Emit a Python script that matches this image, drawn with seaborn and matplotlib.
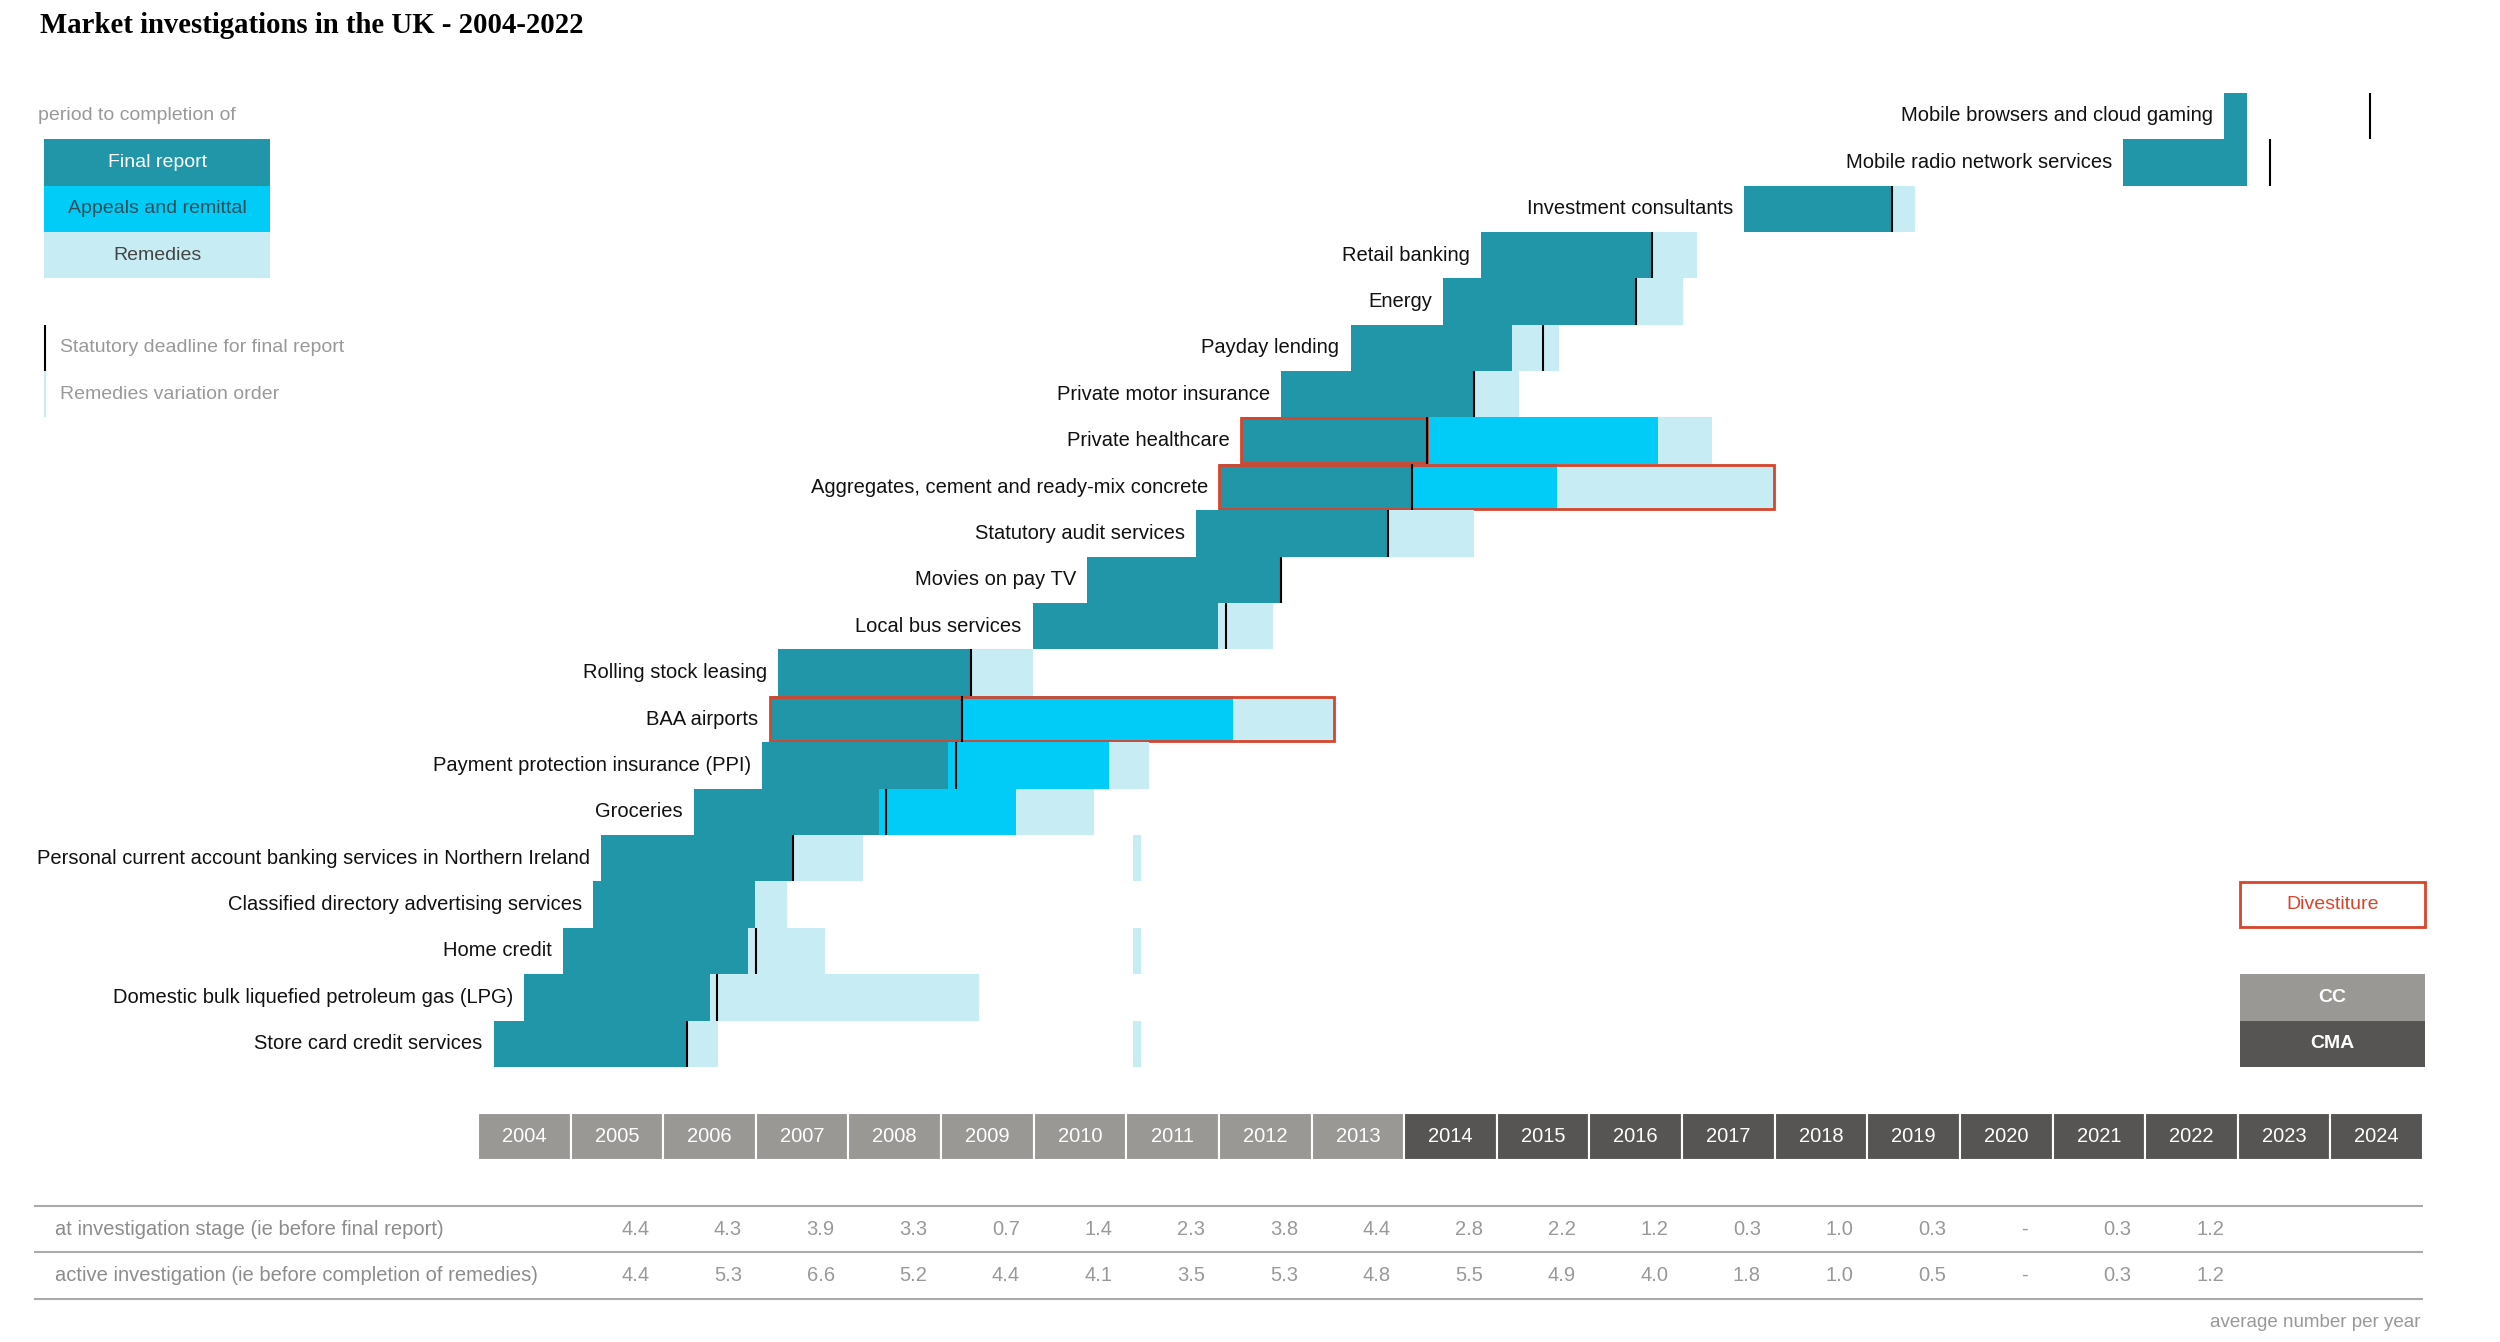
import numpy as np
import matplotlib.pyplot as plt
from matplotlib.patches import Rectangle
import seaborn as sns

sns.set_theme(style='white')
plt.rcParams['font.family'] = ['Liberation Sans', 'DejaVu Sans']

nan = np.nan

# investigations, top to bottom
names = ['Mobile browsers and cloud gaming', 'Mobile radio network services',
         'Investment consultants', 'Retail banking', 'Energy', 'Payday lending',
         'Private motor insurance', 'Private healthcare',
         'Aggregates, cement and ready-mix concrete', 'Statutory audit services',
         'Movies on pay TV', 'Local bus services', 'Rolling stock leasing',
         'BAA airports', 'Payment protection insurance (PPI)', 'Groceries',
         'Personal current account banking services in Northern Ireland',
         'Classified directory advertising services', 'Home credit',
         'Domestic bulk liquefied petroleum gas (LPG)', 'Store card credit services']
start = [2022.85, 2021.76, 2017.67, 2014.83, 2014.42, 2013.42, 2012.67, 2012.24,
         2012.00, 2011.75, 2010.58, 2009.99, 2007.24, 2007.15, 2007.07, 2006.33,
         2005.33, 2005.24, 2004.92, 2004.50, 2004.17]
final_end = [2023.10, 2023.10, 2019.27, 2016.67, 2016.50, 2015.16, 2014.75, 2014.25,
             2014.08, 2013.83, 2012.67, 2011.99, 2009.32, 2009.23, 2009.07, 2008.33,
             2007.40, 2006.99, 2006.92, 2006.50, 2006.26]
appeals_end = [nan, nan, nan, nan, nan, nan, nan, 2016.74,
               2015.65, nan, nan, nan, nan, 2012.15, 2010.81, 2009.81,
               nan, nan, nan, nan, nan]
remedies_end = [nan, nan, 2019.51, 2017.16, 2017.01, 2015.67, 2015.24, 2017.32,
                2017.99, 2014.75, nan, 2012.58, 2009.99, 2013.24, 2011.25, 2010.65,
                2008.16, 2007.34, 2007.75, 2009.41, 2006.59]
deadline = [2024.43, 2023.35, 2019.27, 2016.67, 2016.50, 2015.50, 2014.75, 2014.25,
            2014.08, 2013.83, 2012.67, 2012.08, 2009.32, 2009.23, 2009.16, 2008.41,
            2007.40, nan, 2007.00, 2006.58, 2006.26]
divest_end = [nan, nan, nan, nan, nan, nan, nan, 2014.25,
              2017.99, nan, nan, nan, nan, 2013.24, nan, nan,
              nan, nan, nan, nan, nan]
rvo = [nan] * 16 + [2011.07, nan, 2011.07, nan, 2011.07]

years = list(range(2004, 2025))
cma_from = 2014

tbl_years = list(range(2005, 2023))
inv_stage = [4.4, 4.3, 3.9, 3.3, 0.7, 1.4, 2.3, 3.8, 4.4, 2.8, 2.2, 1.2, 0.3, 1.0, 0.3, None, 0.3, 1.2]
active_inv = [4.4, 5.3, 6.6, 5.2, 4.4, 4.1, 3.5, 5.3, 4.8, 5.5, 4.9, 4.0, 1.8, 1.0, 0.5, None, 0.3, 1.2]

c_final = '#2196a8'
c_appeal = '#00ccf7'
c_rem = '#c8ecf3'
c_red = '#d9442b'
c_cc = '#9a9894'
c_cma = '#575553'
c_grey = '#999999'

fig = plt.figure(figsize=(25, 13.42), dpi=100)
ax = fig.add_axes([0, 0, 1, 1])
ax.set_xlim(1998.84, 2025.83)
ax.set_ylim(26.93, -2.0)
ax.axis('off')

FS = 14.5

for i, n in enumerate(names):
    s, f = start[i], final_end[i]
    ax.barh(i, f - s, left=s, height=1.0, align='edge', color=c_final, lw=0)
    prev = f
    if not np.isnan(appeals_end[i]):
        ax.barh(i, appeals_end[i] - prev, left=prev, height=1.0, align='edge', color=c_appeal, lw=0)
        prev = appeals_end[i]
    if not np.isnan(remedies_end[i]):
        ax.barh(i, remedies_end[i] - prev, left=prev, height=1.0, align='edge', color=c_rem, lw=0)
    if not np.isnan(rvo[i]):
        ax.barh(i, 0.09, left=rvo[i], height=1.0, align='edge', color=c_rem, lw=0)
    if not np.isnan(deadline[i]):
        ax.vlines(deadline[i], i, i + 1, color='black', lw=1.5)
    if not np.isnan(divest_end[i]):
        ax.add_patch(Rectangle((s, i + 0.02), divest_end[i] - s, 0.96, fill=False,
                               edgecolor=c_red, lw=2))
    ax.text(s - 0.12, i + 0.5, n, ha='right', va='center', fontsize=FS, color='#111111')

# year band
for y in years:
    col = c_cma if y >= cma_from else c_cc
    ax.barh(22, 1, left=y, height=1.0, align='edge', color=col, edgecolor='white', lw=1.5)
    ax.text(y + 0.5, 22.5, str(y), ha='center', va='center', fontsize=14.5, color='white')

# table of averages
for yl in (24, 25, 26):
    ax.hlines(yl, 1999.21, 2025.0, color='#aaaaaa', lw=1.5)
ax.text(1999.43, 24.5, 'at investigation stage (ie before final report)', ha='left',
        va='center', fontsize=FS, color='#8c8c8c')
ax.text(1999.43, 25.5, 'active investigation (ie before completion of remedies)', ha='left',
        va='center', fontsize=FS, color='#8c8c8c')
for y, a, b in zip(tbl_years, inv_stage, active_inv):
    ax.text(y + 0.7, 24.5, '-' if a is None else f'{a:.1f}', ha='center', va='center',
            fontsize=FS, color=c_grey)
    ax.text(y + 0.7, 25.5, '-' if b is None else f'{b:.1f}', ha='center', va='center',
            fontsize=FS, color=c_grey)
ax.text(2024.97, 26.5, 'average number per year', ha='right', va='center',
        fontsize=13.5, color=c_grey)

# left legend
ax.text(1999.25, 0.5, 'period to completion of', ha='left', va='center', fontsize=14, color=c_grey)
leg = [('Final report', c_final, 'white'), ('Appeals and remittal', c_appeal, '#2d4f5a'),
       ('Remedies', c_rem, '#444444')]
for k, (lab, col, tc) in enumerate(leg):
    ax.add_patch(Rectangle((1999.32, 1 + k), 2.44, 1, color=col, lw=0))
    ax.text(1999.32 + 1.22, 1.5 + k, lab, ha='center', va='center', fontsize=14, color=tc)
ax.vlines(1999.33, 5, 6, color='black', lw=1.5)
ax.text(1999.49, 5.5, 'Statutory deadline for final report', ha='left', va='center',
        fontsize=14, color=c_grey)
ax.vlines(1999.33, 6, 7, color=c_rem, lw=1.5)
ax.text(1999.49, 6.5, 'Remedies variation order', ha='left', va='center',
        fontsize=14, color=c_grey)

# right legend
ax.add_patch(Rectangle((2023.02, 17.02), 2.0, 0.96, fill=False, edgecolor=c_red, lw=2))
ax.text(2024.02, 17.5, 'Divestiture', ha='center', va='center', fontsize=14, color=c_red)
ax.add_patch(Rectangle((2023.02, 19), 2.0, 1, color=c_cc, lw=0))
ax.text(2024.02, 19.5, 'CC', ha='center', va='center', fontsize=14, color='white', weight='bold')
ax.add_patch(Rectangle((2023.02, 20), 2.0, 1, color=c_cma, lw=0))
ax.text(2024.02, 20.5, 'CMA', ha='center', va='center', fontsize=14, color='white', weight='bold')

ax.text(1999.27, -1.45, 'Market investigations in the UK - 2004-2022', ha='left', va='center',
        fontsize=20.7, weight='bold', family=['Liberation Serif', 'DejaVu Serif'], color='black')

fig.savefig('out.png', dpi=100)
